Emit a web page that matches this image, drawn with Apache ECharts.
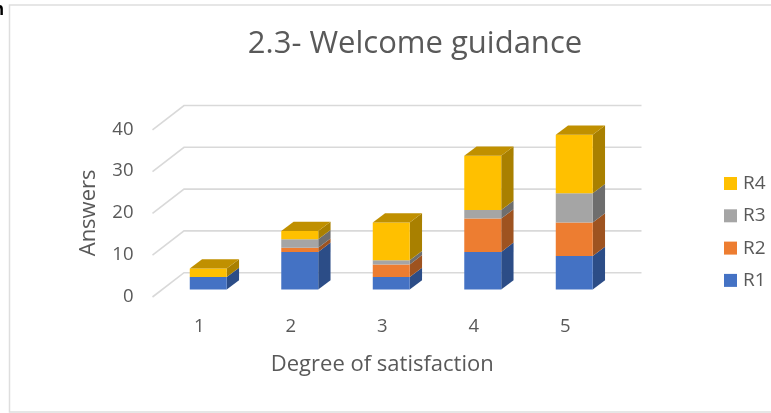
<!DOCTYPE html>
<html><head><meta charset="utf-8">
<style>html,body{margin:0;padding:0;background:#fff}#c{width:771px;height:413px}</style>
<script src="https://cdn.jsdelivr.net/npm/echarts@6/dist/echarts.min.js"></script>
</head><body><div id="c"></div>
<script>
const categories = ['1','2','3','4','5'];
const R1 = [3,9,3,9,8];
const R2 = [0,1,3,8,8];
const R3 = [0,2,1,2,7];
const R4 = [2,2,9,13,14];
const gridTicks = [0,10,20,30,40];
const seriesNames = ['R1','R2','R3','R4'];
const seriesValues = [R1,R2,R3,R4];
const frontColors = ['#4472C4','#ED7D31','#A5A5A5','#FFC000'];
const sideColors = ['#2C4D87','#9E5320','#6E6E6E','#A98000'];
const topColor = '#C09000';
const FONT = '"Open Sans"';
const TXT = '#595959';

const DX = 12.3, DY = 9.3;

function barSeries(si){
  return {
    name: seriesNames[si], type:'custom', z:3,
    itemStyle:{color:frontColors[si]},
    data: categories.map((c,i)=>[i, seriesValues[si][i]]),
    encode:{x:0,y:1},
    renderItem(params, api){
      const i = api.value(0), v = api.value(1);
      if(!v) return null;
      let base = 0;
      for(let k=0;k<si;k++) base += seriesValues[k][i];
      const p0 = api.coord([i, base]), p1 = api.coord([i, base+v]);
      const w = api.size([1,0])[0]*0.404;
      const xl = p0[0]-w/2, xr = p0[0]+w/2, yb = p0[1], yt = p1[1];
      const kids = [
        {type:'polygon', shape:{points:[[xr,yb],[xr+DX,yb-DY],[xr+DX,yt-DY],[xr,yt]]}, style:{fill:sideColors[si]}},
        {type:'rect', shape:{x:xl,y:yt,width:w,height:yb-yt}, style:{fill:frontColors[si]}}
      ];
      let topMost = true;
      for(let k=si+1;k<seriesValues.length;k++) if(seriesValues[k][i]) topMost=false;
      if(topMost) kids.push({type:'polygon', shape:{points:[[xl,yt],[xr,yt],[xr+DX,yt-DY],[xl+DX,yt-DY]]}, style:{fill:topColor}});
      return {type:'group', children:kids};
    }
  };
}

const gridSeries = {
  type:'custom', z:1, silent:true,
  data: gridTicks.map(t=>[0,t]),
  encode:{x:0,y:1},
  renderItem(params, api){
    const y = api.coord([0, api.value(1)])[1];
    const g = params.coordSys;
    const x0 = g.x;
    const st = {stroke:'#D9D9D9', lineWidth:1.6, fill:'none'};
    return {type:'polyline', shape:{points:[[x0-10,y+7.5],[x0+21.5,y-16.8],[x0+g.width+21.5,y-16.8]]}, style:st};
  }
};

const chart = echarts.init(document.getElementById('c'));
chart.setOption({
  animation:false,
  backgroundColor:'#fff',
  textStyle:{fontFamily:FONT},
  title:{text:'2.3- Welcome guidance', left:410, top:39, textAlign:'center', textVerticalAlign:'middle',
    textStyle:{fontFamily:FONT,fontSize:31,fontWeight:'normal',color:TXT}},
  legend:{orient:'vertical', left:724, top:174, padding:0, data:['R4','R3','R2','R1'], icon:'rect',
    itemWidth:13,itemHeight:13,itemGap:13.3,
    textStyle:{fontFamily:FONT,fontSize:19,color:TXT,padding:[0,0,0,1]}},
  grid:{left:162.5,width:457.5,top:122.3,height:167.2},
  xAxis:{type:'category',data:categories,
    name:'Degree of satisfaction',nameLocation:'middle',nameGap:64,
    nameTextStyle:{fontFamily:FONT,fontSize:22,color:TXT,padding:[0,18,0,0]},
    axisLine:{show:false},axisTick:{show:false},
    axisLabel:{fontFamily:FONT,fontSize:18.5,color:TXT,margin:28,padding:[0,18,0,0]}},
  yAxis:{type:'value',min:0,max:40,interval:10,
    name:'Answers',nameLocation:'middle',nameGap:63,
    nameTextStyle:{fontFamily:FONT,fontSize:22,color:TXT,padding:[0,14,0,0]},
    axisLine:{show:false},axisTick:{show:false},splitLine:{show:false},
    axisLabel:{fontFamily:FONT,fontSize:18.5,color:TXT,margin:29,verticalAlign:'top',lineHeight:14}},
  graphic:[
    {type:'rect',z:0,shape:{x:9.5,y:5,width:770,height:407},style:{fill:'none',stroke:'#DEDEDE',lineWidth:1.5}},
    {type:'text',z:5,left:-7,top:1,style:{text:'n',fontFamily:'"Liberation Sans"',fontWeight:'bold',fontSize:18,fill:'#000'}}
  ],
  series:[gridSeries,...seriesValues.map((_,si)=>barSeries(si))]
});
</script></body></html>
